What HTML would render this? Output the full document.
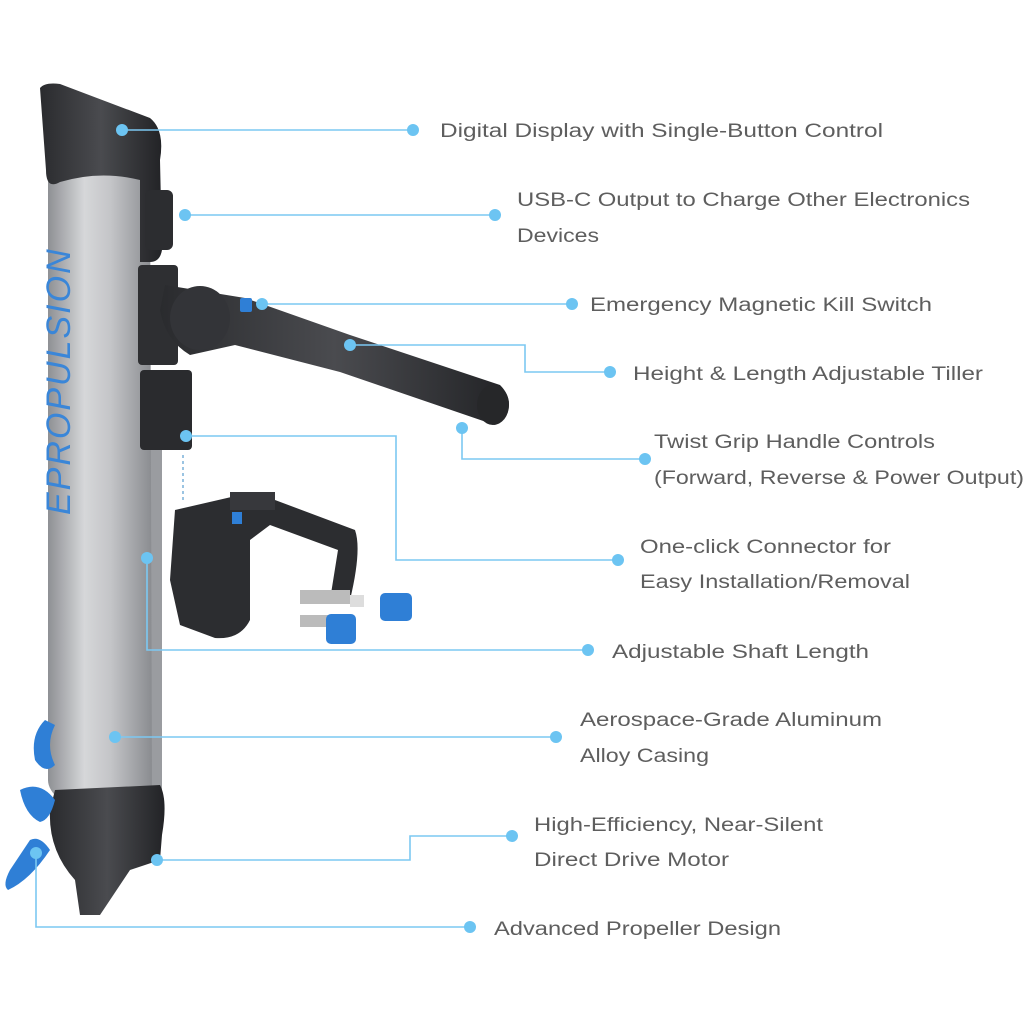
<!DOCTYPE html>
<html><head><meta charset="utf-8"><style>
html,body{margin:0;padding:0;background:#fff;}
.t{font-family:"Liberation Sans",sans-serif;font-size:19px;fill:#5e5e5e;}
</style></head><body>
<svg width="1024" height="1024" viewBox="0 0 1024 1024" xmlns="http://www.w3.org/2000/svg">
<defs>
<linearGradient id="al" x1="0" x2="1" y1="0" y2="0">
<stop offset="0" stop-color="#8e9094"/><stop offset="0.35" stop-color="#d6d7d9"/><stop offset="0.6" stop-color="#c4c5c8"/><stop offset="1" stop-color="#8a8c90"/>
</linearGradient>
<linearGradient id="bk" x1="0" x2="1"><stop offset="0" stop-color="#2a2b2e"/><stop offset="0.5" stop-color="#4a4b4f"/><stop offset="1" stop-color="#222326"/></linearGradient>
</defs>
<rect x="140" y="400" width="22" height="420" fill="#9a9ca0"/>
<path d="M48 150 L150 150 L152 800 L60 800 Q48 790 48 780 Z" fill="url(#al)"/>
<text x="0" y="0" transform="translate(70,515) rotate(-90)" font-family="Liberation Sans,sans-serif" font-size="34" font-style="italic" fill="#3a86d8" letter-spacing="2">EPROPULSION</text>
<path d="M40 88 Q45 82 60 84 L150 118 Q165 130 160 160 L162 250 Q160 262 150 262 L140 262 L140 180 Q100 170 60 182 Q46 190 46 170 Z" fill="url(#bk)"/>
<rect x="145" y="190" width="28" height="60" rx="6" fill="#2c2d30"/>
<rect x="138" y="265" width="40" height="100" rx="4" fill="#2e2f32"/>
<rect x="140" y="370" width="52" height="80" rx="4" fill="#2a2b2e"/>
<path d="M165 285 L245 298 L350 335 L500 385 Q515 400 505 418 L495 425 L340 372 L235 345 L190 355 Q165 340 160 310 Z" fill="url(#bk)"/>
<ellipse cx="200" cy="318" rx="30" ry="32" fill="#333438"/>
<ellipse cx="493" cy="405" rx="16" ry="20" fill="#262729"/>
<rect x="240" y="298" width="12" height="14" rx="2" fill="#2f7fd6"/>
<line x1="183" y1="455" x2="183" y2="500" stroke="#7ab0d8" stroke-width="1.5" stroke-dasharray="3,3"/>
<path d="M175 510 L240 495 L275 500 L355 530 Q362 550 350 600 L330 600 L338 550 L270 525 L250 540 L250 620 Q240 640 215 638 L180 625 L170 580 Z" fill="#2c2d30"/>
<rect x="230" y="492" width="45" height="18" fill="#37383c"/>
<rect x="300" y="590" width="50" height="14" fill="#bbb"/>
<rect x="300" y="615" width="40" height="12" fill="#bbb"/>
<rect x="350" y="595" width="14" height="12" fill="#ddd"/>
<rect x="380" y="593" width="32" height="28" rx="5" fill="#2f7fd6"/>
<rect x="326" y="614" width="30" height="30" rx="5" fill="#2f7fd6"/>
<rect x="232" y="512" width="10" height="12" fill="#2f7fd6"/>
<path d="M55 790 L160 785 Q168 800 162 835 L160 860 L130 870 L100 915 L80 915 L75 880 Q48 850 50 810 Z" fill="url(#bk)"/>
<path d="M45 720 Q30 735 35 760 Q45 775 55 765 Q45 745 55 725 Z" fill="#2f7fd6"/>
<path d="M20 790 Q40 780 55 800 Q50 820 40 822 Q25 815 20 790 Z" fill="#2f7fd6"/>
<path d="M30 840 Q40 835 50 850 Q30 880 8 890 Q2 885 10 870 Z" fill="#2f7fd6"/>
<g stroke="#7cc8f2" stroke-width="1.6" fill="none">
<path d="M122 130 H413"/>
<path d="M185 215 H495"/>
<path d="M262 304 H572"/>
<path d="M350 345 H525 V372 H610"/>
<path d="M462 428 V459 H645"/>
<path d="M186 436 H396 V560 H618"/>
<path d="M147 558 V650 H588"/>
<path d="M115 737 H556"/>
<path d="M157 860 H410 V836 H512"/>
<path d="M36 853 V927 H470"/>
</g>
<g fill="#6cc4f2">
<circle cx="122" cy="130" r="6"/><circle cx="413" cy="130" r="6"/>
<circle cx="185" cy="215" r="6"/><circle cx="495" cy="215" r="6"/>
<circle cx="262" cy="304" r="6"/><circle cx="572" cy="304" r="6"/>
<circle cx="350" cy="345" r="6"/><circle cx="610" cy="372" r="6"/>
<circle cx="462" cy="428" r="6"/><circle cx="645" cy="459" r="6"/>
<circle cx="186" cy="436" r="6"/><circle cx="618" cy="560" r="6"/>
<circle cx="147" cy="558" r="6"/><circle cx="588" cy="650" r="6"/>
<circle cx="115" cy="737" r="6"/><circle cx="556" cy="737" r="6"/>
<circle cx="157" cy="860" r="6"/><circle cx="512" cy="836" r="6"/>
<circle cx="36" cy="853" r="6"/><circle cx="470" cy="927" r="6"/>
</g>
<text class="t" x="440" y="137" textLength="443" lengthAdjust="spacingAndGlyphs">Digital Display with Single-Button Control</text>
<text class="t" x="517" y="206" textLength="453" lengthAdjust="spacingAndGlyphs">USB-C Output to Charge Other Electronics</text>
<text class="t" x="517" y="242" textLength="82" lengthAdjust="spacingAndGlyphs">Devices</text>
<text class="t" x="590" y="311" textLength="342" lengthAdjust="spacingAndGlyphs">Emergency Magnetic Kill Switch</text>
<text class="t" x="633" y="380" textLength="350" lengthAdjust="spacingAndGlyphs">Height &amp; Length Adjustable Tiller</text>
<text class="t" x="654" y="448" textLength="281" lengthAdjust="spacingAndGlyphs">Twist Grip Handle Controls</text>
<text class="t" x="654" y="484" textLength="370" lengthAdjust="spacingAndGlyphs">(Forward, Reverse &amp; Power Output)</text>
<text class="t" x="640" y="553" textLength="251" lengthAdjust="spacingAndGlyphs">One-click Connector for</text>
<text class="t" x="640" y="588" textLength="270" lengthAdjust="spacingAndGlyphs">Easy Installation/Removal</text>
<text class="t" x="612" y="658" textLength="257" lengthAdjust="spacingAndGlyphs">Adjustable Shaft Length</text>
<text class="t" x="580" y="726" textLength="302" lengthAdjust="spacingAndGlyphs">Aerospace-Grade Aluminum</text>
<text class="t" x="580" y="762" textLength="129" lengthAdjust="spacingAndGlyphs">Alloy Casing</text>
<text class="t" x="534" y="831" textLength="289" lengthAdjust="spacingAndGlyphs">High-Efficiency, Near-Silent</text>
<text class="t" x="534" y="866" textLength="195" lengthAdjust="spacingAndGlyphs">Direct Drive Motor</text>
<text class="t" x="494" y="935" textLength="287" lengthAdjust="spacingAndGlyphs">Advanced Propeller Design</text>
</svg>
</body></html>
